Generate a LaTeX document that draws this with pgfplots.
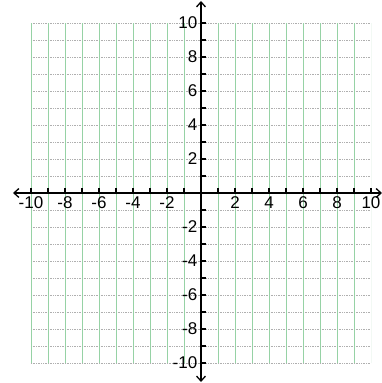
\documentclass[border=0pt]{standalone}
\usepackage{pgfplots}
\pgfplotsset{compat=1.18}
\usetikzlibrary{arrows.meta}
\usepackage{fontspec}
\setmainfont{Liberation Sans}
\definecolor{gridgreen}{RGB}{150,210,165}
\definecolor{gridgray}{RGB}{175,175,175}
\begin{document}
\begin{tikzpicture}
\useasboundingbox (-31pt,-20pt) rectangle (351pt,363pt);
\begin{axis}[
  at={(0,0)}, anchor=south west,
  scale only axis, width=340pt, height=340pt,
  xmin=-10, xmax=10, ymin=-10, ymax=10,
  axis lines=middle, axis on top,
  xtick={-10,-8,-6,-4,-2,2,4,6,8,10},
  ytick={-10,-8,-6,-4,-2,2,4,6,8,10},
  xticklabels={-10,-8,-6,-4,-2,2,4,6,8,10},
  yticklabels={-10,-8,-6,-4,-2,2,4,6,8,10},
  minor xtick={-9,-7,...,9},
  minor ytick={-9,-7,...,9},
  major tick length=5pt, minor tick length=5pt,
  tick style={black, line width=1.2pt},
  xtick style={yshift=2.5pt},
  ytick style={xshift=2.5pt},
  ticklabel style={font=\fontsize{17}{18}\selectfont, inner sep=1pt},
  x axis line style={{Straight Barb[length=5pt,width=9pt]}-{Straight Barb[length=5pt,width=9pt]}, line width=1.3pt, shorten <=-18pt, shorten >=-11pt},
  y axis line style={{Straight Barb[length=5pt,width=9pt]}-{Straight Barb[length=5pt,width=9pt]}, line width=1.3pt, shorten <=-19pt, shorten >=-22pt},
]
% horizontal grid lines
\pgfplotsinvokeforeach{-10,...,10}{
  \addplot[gridgray, line width=0.7pt, densely dotted, forget plot] coordinates {(-10,#1) (10,#1)};
}
% vertical grid lines
\pgfplotsinvokeforeach{-10,...,10}{
  \addplot[gridgreen, line width=0.7pt, forget plot] coordinates {(#1,-10) (#1,10)};
}
\end{axis}
\end{tikzpicture}
\end{document}
